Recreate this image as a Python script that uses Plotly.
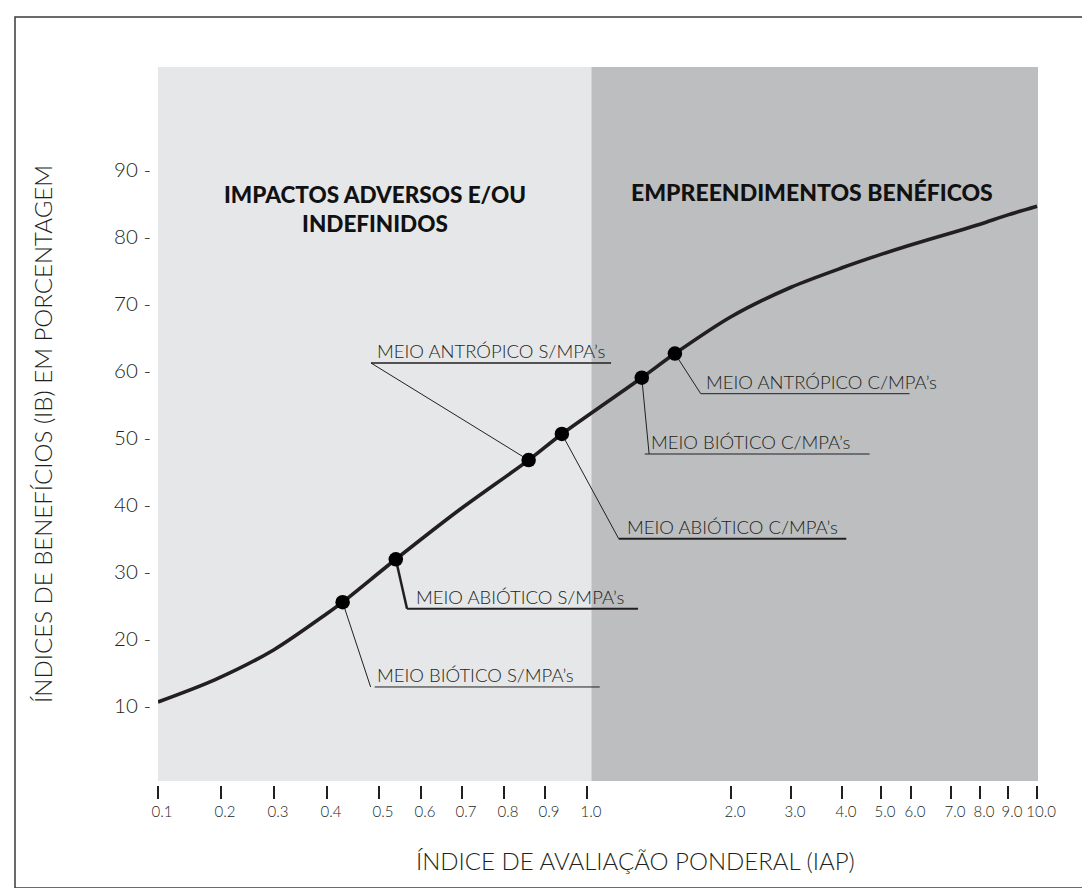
import numpy as np
import plotly.graph_objects as go

# ---------------- data ----------------
TICK_LABELS = ["0.1", "0.2", "0.3", "0.4", "0.5", "0.6", "0.7", "0.8", "0.9", "1.0",
               "2.0", "3.0", "4.0", "5.0", "6.0", "7.0", "8.0", "9.0", "10.0"]
TICK_IAP = [0.1, 0.2, 0.3, 0.4, 0.5, 0.6, 0.7, 0.8, 0.9, 1.0,
            2.0, 3.0, 4.0, 5.0, 6.0, 7.0, 8.0, 9.0, 10.0]
# position of each printed tick along the (non-uniform) printed axis, % of axis length
TICK_POS = [0.0, 7.17, 13.20, 19.23, 25.14, 29.92, 34.58, 39.36, 44.03, 48.81,
            65.19, 72.01, 77.82, 82.25, 85.67, 90.22, 93.52, 96.70, 100.0]

Y_TICKS = [10, 20, 30, 40, 50, 60, 70, 80, 90]
Y_TICK_TEXT = ["10 -", "20 -", "30 -", "40 -", "50 -", "60 -", "70 -", "80 -", "90 -"]

CURVE_IAP = [0.10, 0.19, 0.30, 0.40, 0.43, 0.54, 0.69, 0.86, 0.94, 1.38, 1.61,
             2.0, 3.0, 4.0, 5.0, 5.9, 7.0, 8.0, 9.0, 10.0]
CURVE_IB = [10.6, 13.9, 18.4, 23.8, 25.5, 31.9, 39.1, 46.7, 50.6, 59.0, 62.6,
            68.1, 72.5, 75.4, 77.4, 78.7, 80.6, 81.9, 83.3, 84.6]

POINT_NAMES = ["MEIO BIÓTICO S/MPA’s", "MEIO ABIÓTICO S/MPA’s", "MEIO ANTRÓPICO S/MPA’s",
               "MEIO ABIÓTICO C/MPA’s", "MEIO BIÓTICO C/MPA’s", "MEIO ANTRÓPICO C/MPA’s"]
POINT_IAP = [0.43, 0.54, 0.86, 0.94, 1.38, 1.61]
POINT_IB = [25.5, 31.9, 46.7, 50.6, 59.0, 62.6]

REGION_SPLIT_IAP = 1.03
REGION_TEXT = ["IMPACTOS ADVERSOS E/OU<br>INDEFINIDOS", "EMPREENDIMENTOS BENÉFICOS"]

# ---------------- layout helpers ----------------
def scale(v):
    return np.interp(v, TICK_IAP, TICK_POS)

INK = "#231f20"
LIGHT = "#e6e7e8"
DARK = "#bcbec0"
FONT = "Lato, 'Open Sans', sans-serif"

X_MAX = 100.11
Y_MIN, Y_MAX = -1.79, 105.37
GREY_BOTTOM = -1.2

# label layout: underline start x, underline end x, underline y, leader end x, leader width, underline width, text shift
LABEL_X0 = [24.65, 28.33, 24.23, 52.41, 55.37, 61.74]
LABEL_X1 = [50.25, 54.61, 51.54, 78.30, 80.95, 85.50]
LABEL_Y = [12.84, 24.52, 61.19, 34.97, 47.61, 56.61]
LEADER_X = [24.19, 28.33, 24.23, 52.41, 55.87, 61.74]
LEADER_W = [1, 2.5, 1, 1, 1, 1]
ULINE_W = [1, 2, 1.5, 2, 1, 1]
TEXT_DX = [0, 7, 4, 6, 4, 3]

fig = go.Figure()

fig.add_trace(go.Scatter(
    x=scale(CURVE_IAP), y=CURVE_IB, mode="lines",
    line=dict(color=INK, width=3.6, shape="spline", smoothing=0.8),
    hoverinfo="skip", showlegend=False))

fig.add_trace(go.Scatter(
    x=scale(POINT_IAP), y=POINT_IB, mode="markers",
    marker=dict(color="#000000", size=14.5),
    text=POINT_NAMES, hoverinfo="text", showlegend=False))

shapes = [
    dict(type="rect", xref="x", yref="y", x0=0, x1=float(scale(REGION_SPLIT_IAP)),
         y0=GREY_BOTTOM, y1=Y_MAX, fillcolor=LIGHT, line=dict(width=0), layer="below"),
    dict(type="rect", xref="x", yref="y", x0=float(scale(REGION_SPLIT_IAP)), x1=X_MAX,
         y0=GREY_BOTTOM, y1=Y_MAX, fillcolor=DARK, line=dict(width=0), layer="below"),
    dict(type="rect", xref="paper", yref="paper", x0=-0.1625, x1=1.059, y0=-0.1435, y1=1.0696,
         line=dict(color="#3a3a3a", width=1.5), fillcolor="rgba(0,0,0,0)"),
]

annotations = []
px = scale(POINT_IAP)
for i, name in enumerate(POINT_NAMES):
    shapes.append(dict(type="line", xref="x", yref="y",
                       x0=float(px[i]), y0=POINT_IB[i], x1=LEADER_X[i], y1=LABEL_Y[i],
                       line=dict(color=INK, width=LEADER_W[i]), layer="below"))
    shapes.append(dict(type="line", xref="x", yref="y",
                       x0=LABEL_X0[i], y0=LABEL_Y[i], x1=LABEL_X1[i], y1=LABEL_Y[i],
                       line=dict(color=INK, width=ULINE_W[i]), layer="below"))
    annotations.append(dict(x=LABEL_X0[i], y=LABEL_Y[i], xref="x", yref="y",
                            text=name, showarrow=False, xanchor="left", yanchor="bottom",
                            xshift=TEXT_DX[i], yshift=-1,
                            font=dict(family=FONT, size=18.5, color=INK, weight=300)))

annotations.append(dict(x=24.7, y=84.2, xref="x", yref="y", text=REGION_TEXT[0],
                        showarrow=False, align="center", xanchor="center", yanchor="middle",
                        font=dict(family=FONT, size=22.5, color="#111111", weight=900)))
annotations.append(dict(x=74.4, y=86.7, xref="x", yref="y", text=REGION_TEXT[1],
                        showarrow=False, align="center", xanchor="center", yanchor="middle",
                        font=dict(family=FONT, size=23, color="#111111", weight=900)))

annotations.append(dict(x=0.543, y=-0.1045, xref="paper", yref="paper",
                        text="ÍNDICE DE AVALIAÇÃO PONDERAL (IAP)", showarrow=False,
                        xanchor="center", yanchor="middle",
                        font=dict(family=FONT, size=24, color=INK, weight=300)))
annotations.append(dict(x=-0.1307, y=0.489, xref="paper", yref="paper",
                        text="ÍNDICES DE BENEFÍCIOS (IB) EM PORCENTAGEM", showarrow=False,
                        textangle=-90, xanchor="center", yanchor="middle",
                        font=dict(family=FONT, size=24, color=INK, weight=300)))

fig.update_layout(
    width=1090, height=888, autosize=False,
    margin=dict(l=150, r=60, t=59, b=111, pad=0),
    paper_bgcolor="white", plot_bgcolor="rgba(0,0,0,0)",
    shapes=shapes, annotations=annotations,
    xaxis=dict(range=[0, X_MAX], tickmode="array", tickvals=TICK_POS, ticktext=TICK_LABELS,
               ticks="outside", ticklen=13, tickwidth=2, tickcolor=INK,
               showgrid=False, zeroline=False, showline=False, ticklabelshift=4,
               tickfont=dict(family=FONT, size=15, color=INK, weight=300), fixedrange=True),
    yaxis=dict(range=[Y_MIN, Y_MAX], tickmode="array", tickvals=Y_TICKS, ticktext=Y_TICK_TEXT,
               ticks="", showgrid=False, zeroline=False, showline=False, ticklabelstandoff=6,
               tickfont=dict(family=FONT, size=20.5, color=INK, weight=300), fixedrange=True),
)

fig.write_html("out.html")
